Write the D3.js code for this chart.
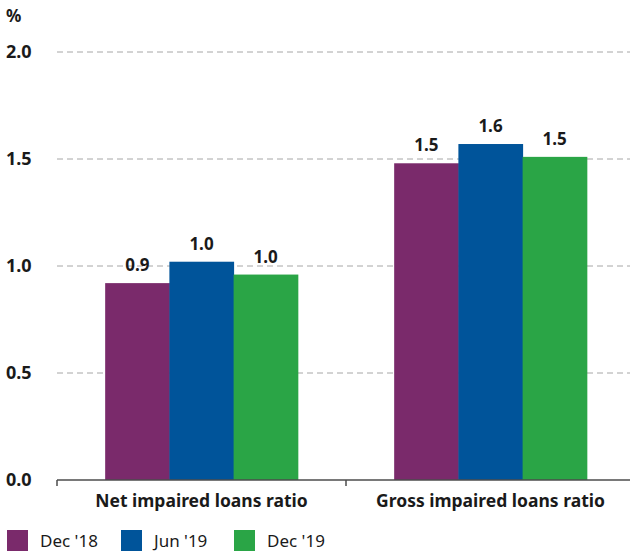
<!DOCTYPE html>
<html>
<head>
<meta charset="utf-8">
<script src="https://cdn.jsdelivr.net/npm/d3@7"></script>
<style>
  body { margin: 0; background: #fff; }
  svg text { font-family: "Noto Sans", "Open Sans", sans-serif; fill: #1a1a1a; }
</style>
</head>
<body>
<svg id="chart" width="630" height="552"></svg>
<script>
// Data
const categories = ["Net impaired loans ratio", "Gross impaired loans ratio"];
const seriesNames = ["Dec '18", "Jun '19", "Dec '19"];
const seriesColors = ["#7a2a6b", "#00549a", "#2aa546"];
const netValues   = [0.92, 1.02, 0.96];
const grossValues = [1.48, 1.57, 1.51];
const barLabels   = [["0.9", "1.0", "1.0"], ["1.5", "1.6", "1.5"]];
const yTicks = [0, 0.5, 1.0, 1.5, 2.0];

const rows = [netValues, grossValues];

const svg = d3.select("#chart");
// plot area runs slightly past the right edge of the picture
const margin = { top: 52, right: -5, bottom: 72, left: 57 };
const W = 630, H = 552;
const innerW = W - margin.left - margin.right;
const innerH = H - margin.top - margin.bottom;

const g = svg.append("g").attr("transform", `translate(${margin.left},${margin.top})`);

const x0 = d3.scaleBand().domain(categories).range([0, innerW]).paddingInner(0).paddingOuter(0);
const x1 = d3.scaleBand().domain(seriesNames).range([0, x0.bandwidth()]).paddingInner(0).paddingOuter(0.75);
const y = d3.scaleLinear().domain([0, 2]).range([innerH, 0]);
const color = d3.scaleOrdinal().domain(seriesNames).range(seriesColors);

// Gridlines
g.selectAll("line.grid")
  .data(yTicks.filter(d => d > 0))
  .join("line")
    .attr("class", "grid")
    .attr("x1", 0).attr("x2", innerW)
    .attr("y1", d => y(d)).attr("y2", d => y(d))
    .attr("stroke", "#a6a6a6")
    .attr("stroke-width", 1)
    .attr("stroke-dasharray", "6,4");

// Y tick labels
svg.selectAll("text.ytick")
  .data(yTicks)
  .join("text")
    .attr("class", "ytick")
    .attr("x", 6)
    .attr("y", d => margin.top + y(d))
    .attr("dy", "0.35em")
    .style("font-size", "18px")
    .style("font-weight", 700)
    .text(d => d3.format(".1f")(d));

svg.append("text")
  .attr("x", 6).attr("y", 22)
  .style("font-size", "17px")
  .style("font-weight", 700)
  .text("%");

// Bars
const groups = g.selectAll("g.cat")
  .data(categories)
  .join("g")
    .attr("class", "cat")
    .attr("transform", d => `translate(${x0(d)},0)`);

groups.selectAll("rect")
  .data((d, i) => seriesNames.map((s, j) => ({ s, v: rows[i][j] })))
  .join("rect")
    .attr("x", d => x1(d.s))
    .attr("y", d => y(d.v))
    .attr("width", x1.bandwidth() + 0.5)
    .attr("height", d => y(0) - y(d.v))
    .attr("fill", d => color(d.s));

groups.selectAll("text.val")
  .data((d, i) => seriesNames.map((s, j) => ({ s, v: rows[i][j], t: barLabels[i][j] })))
  .join("text")
    .attr("class", "val")
    .attr("x", d => x1(d.s) + x1.bandwidth() / 2)
    .attr("y", d => y(d.v) - 12)
    .attr("text-anchor", "middle")
    .style("font-size", "17px")
    .style("font-weight", 700)
    .text(d => d.t);

// X axis
const xAxis = g.append("g")
  .attr("transform", `translate(0,${innerH})`);
xAxis.append("line")
  .attr("x1", 0).attr("x2", innerW)
  .attr("stroke", "#4d4d4d").attr("stroke-width", 1.5);
xAxis.selectAll("line.tick")
  .data(categories)
  .join("line")
    .attr("class", "tick")
    .attr("x1", d => x0(d)).attr("x2", d => x0(d))
    .attr("y1", 0).attr("y2", 6)
    .attr("stroke", "#4d4d4d").attr("stroke-width", 1.5);
xAxis.selectAll("text")
  .data(categories)
  .join("text")
    .attr("x", d => x0(d) + x0.bandwidth() / 2)
    .attr("y", 27)
    .attr("text-anchor", "middle")
    .style("font-size", "17.5px")
    .style("font-weight", 700)
    .text(d => d);

// Legend
const legendX = [7, 121, 234];
const legend = svg.selectAll("g.legend")
  .data(seriesNames)
  .join("g")
    .attr("class", "legend")
    .attr("transform", (d, i) => `translate(${legendX[i]},530)`);
legend.append("rect")
  .attr("width", 21).attr("height", 21)
  .attr("fill", d => color(d));
legend.append("text")
  .attr("x", 33).attr("y", 11)
  .attr("dy", "0.35em")
  .style("font-size", "17px")
  .text(d => d);
</script>
</body>
</html>
